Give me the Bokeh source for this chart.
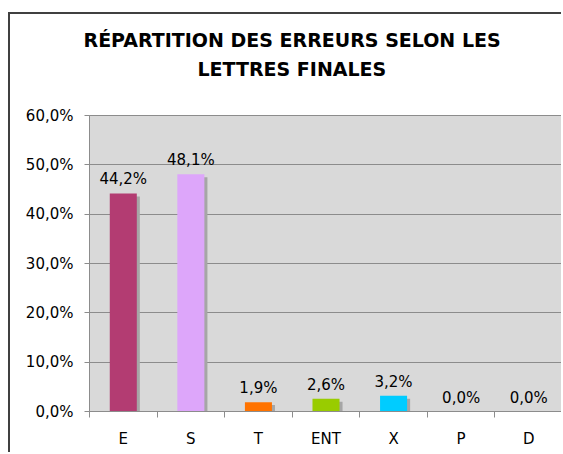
from bokeh.plotting import figure
from bokeh.models import ColumnDataSource, FixedTicker, Title, Range1d
from bokeh.core.properties import value
from bokeh.transform import dodge
from bokeh.embed import file_html
from bokeh.resources import INLINE

categories = ["E", "S", "T", "ENT", "X", "P", "D"]
values = [44.2, 48.1, 1.9, 2.6, 3.2, 0.0, 0.0]
colors = ["#B33C72", "#DDA6FA", "#FF7300", "#99CC00", "#00CCFF", "#888888", "#888888"]
y_ticks = [0, 10, 20, 30, 40, 50, 60]
title_lines = ["RÉPARTITION DES ERREURS SELON LES", "LETTRES FINALES"]

FONT = "DejaVu Sans"

xs = [i + 0.5 for i in range(len(categories))]
src = ColumnDataSource(dict(
    x=xs, top=values, color=colors,
    shadow_top=[max(v - 0.6, 0) for v in values],
    label=[("%.1f%%" % v).replace(".", ",") for v in values],
))

p = figure(width=553, height=440, output_backend="svg", toolbar_location=None,
           x_range=Range1d(0, len(categories)), y_range=Range1d(0, 60),
           min_border_left=79, min_border_right=1, min_border_top=101, min_border_bottom=43)
p.margin = (12, 0, 0, 8)
p.styles = {"border-left": "2px solid #404040", "border-top": "2px solid #404040"}
p.border_fill_color = "white"
p.background_fill_color = "#D9D9D9"
p.outline_line_color = "#8C8C8C"
p.outline_line_width = 1

# shadow
p.vbar(x=dodge("x", 0.045), top="shadow_top", bottom=0, width=0.4, source=src,
       color="#A6A6A6", line_color=None)
p.vbar(x="x", top="top", bottom=0, width=0.4, source=src,
       fill_color="color", line_color=None)
p.text(x="x", y="top", text="label", source=src, text_align="center",
       text_baseline="bottom", y_offset=-5, text_font_size="15px",
       text_color="black", text_font=value(FONT))

p.xgrid.visible = False
p.ygrid.ticker = FixedTicker(ticks=y_ticks)
p.ygrid.grid_line_color = "#8C8C8C"
p.ygrid.grid_line_width = 1

p.yaxis.ticker = FixedTicker(ticks=y_ticks)
p.yaxis.major_label_overrides = {t: ("%.1f%%" % t).replace(".", ",") for t in y_ticks}
p.yaxis.major_tick_in = 0
p.yaxis.major_tick_out = 5
p.yaxis.major_label_standoff = 11

p.xaxis.ticker = FixedTicker(ticks=xs, minor_ticks=list(range(len(categories) + 1)))
p.xaxis.major_label_overrides = {x: c for x, c in zip(xs, categories)}
p.xaxis.major_tick_out = 0
p.xaxis.major_tick_in = 0
p.xaxis.minor_tick_out = 6
p.xaxis.minor_tick_in = 0
p.xaxis.major_label_standoff = 12

for ax in (p.xaxis, p.yaxis):
    ax.axis_line_color = "#8C8C8C"
    ax.major_tick_line_color = "#8C8C8C"
    ax.minor_tick_line_color = "#8C8C8C"
    ax.major_label_text_font = FONT
    ax.major_label_text_font_size = "15px"
    ax.major_label_text_color = "black"
p.yaxis.minor_tick_line_color = None

# title lines (the first added sits closest to the frame); blank spacer first
spacer = Title(text=" ", standoff=9, text_font=FONT, text_font_size="19px")
line2 = Title(text=title_lines[1], align="left", offset=108, standoff=5,
              text_font=FONT, text_font_style="bold", text_font_size="19px",
              text_color="black")
line1 = Title(text=title_lines[0], align="left", offset=-6, standoff=5,
              text_font=FONT, text_font_style="bold", text_font_size="19px",
              text_color="black")
p.add_layout(spacer, "above")
p.add_layout(line2, "above")
p.add_layout(line1, "above")

open("out.html", "w").write(file_html(p, INLINE))
